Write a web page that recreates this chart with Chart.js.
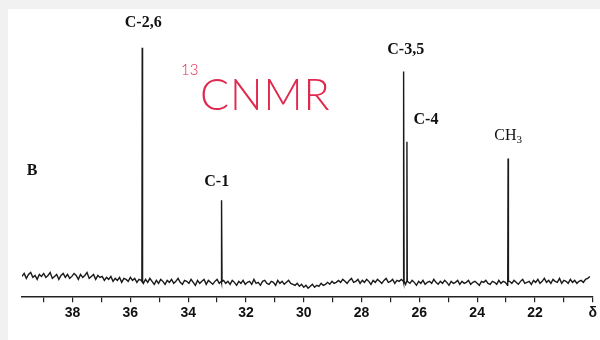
<!DOCTYPE html>
<html>
<head>
<meta charset="UTF-8">
<title>13C NMR</title>
<script src="https://cdn.jsdelivr.net/npm/chart.js@4.4.1/dist/chart.umd.min.js"></script>
<style>
  html, body { margin: 0; padding: 0; background: #fff; }
  #wrap { width: 600px; height: 340px; }
</style>
</head>
<body>
<div id="wrap"><canvas id="nmr" width="600" height="340"></canvas></div>
<script>
// baseline noise left to right (ppm 39.75 -> 20.1)
const noiseStart = 39.75;
const noiseStep = 0.075;
const noise = [
  5, 8, 3, 7, 9, 4, 6, 2, 7, 5,
  8, 4, 6, 9, 3, 5, 7, 2, 6, 8,
  4, 7, 3, 5, 8, 6, 2, 7, 4, 6,
  9, 3, 5, 7, 2, 6, 4, 5,
  1, 4, 2, 5, 0, 3, 1, 4, -1, 3,
  2, 0, 4, 1, 3, -1, 2, 1,
  -2, 2, -1, 3, 0, -3, 1, -2, 2, 0,
  -3, 1, -1, 2, -2, 0, 3, -1, -3, 1,
  0, -2, 2, -1, -4, 1, -2, 0, 2, -3,
  1, -1, -3, 0, 2, -2, -1, 1,
  -2, 0, -3, 1, -1, -4, 0, -2, 1, -3,
  -1, 0, -3, 2, -2, -1, -4, 0, 1, -2,
  -3, 0, -1, -4, 1, -2, 0, -3, -1, 1, -2, -3,
  -4, -2, -5, -3, -6, -4, -7, -5, -3, -6,
  -4, -5, -2, -4, -3, -1, -3, 0, -2, -1,
  1, -1, 2, 0, -2, 1, 3, -1, 0, 2,
  -2, 1, -1, 2, 0, -3, 1, -1, 2, 0,
  -2, 1, 3, -1, 0, 2, -2, 1, 0, 2,
  -1, -3, 0, -2, 1, -1, -4, 0, -2, 1,
  -3, -1, 0, -2, 2, -1, -3, 0, -2, 1,
  -1, -4, 0, -2, -1, 1, -3, 0, -2, -1,
  1, -3, -1, 0, -2, -4, 0, -1, 1, -2,
  -3, 0, -1, -3, 1, -2, 0, -1, -4, 0,
  -2, 1, -1, -3, 0, 2, -2, -1, 0, -3,
  1, -1, 2, -2, 0, 3, -1, 1, -2, 2,
  0, -1, 3, -2, 1, 0, -2, 2, -1, 1,
  -2, 0, 1, -1, 2, 3, 5
];

// peaks
const peakShifts  = [35.59, 32.84, 26.54, 26.43, 22.93];
const peakHeights = [236, 82, 212, 141, 124];
const peakNames   = ['C-2,6', 'C-1', 'C-3,5', 'C-4', 'CH3'];

// axis ticks
const tickValues = [39, 38, 37, 36, 35, 34, 33, 32, 31, 30, 29, 28, 27, 26, 25, 24, 23, 22, 21, 20];
const tickLabels = ['', '38', '', '36', '', '34', '', '32', '', '30', '', '28', '', '26', '', '24', '', '22', '', 'δ'];

// build the trace
let pts = noise.map((v, i) => ({ x: noiseStart - i * noiseStep, y: v }));
peakShifts.forEach((p, i) => {
    pts.push({ x: p + 0.012, y: 0 });
    pts.push({ x: p, y: peakHeights[i] });
    pts.push({ x: p - 0.012, y: 0 });
});
pts.sort((a, b) => b.x - a.x);

const labelOffsets = [[1, -25], [-5, -18], [2, -22], [19, -22], [0, -23]];

const paper = {
    id: 'paper',
    beforeDraw(chart) {
        const c = chart.ctx;
        c.save();
        c.fillStyle = '#f1f1f1';
        c.fillRect(0, 0, chart.width, chart.height);
        c.fillStyle = '#ffffff';
        c.fillRect(8, 9, chart.width - 8, chart.height - 9);
        c.restore();
    },
    afterDraw(chart) {
        const c = chart.ctx;
        const xs = chart.scales.x, ys = chart.scales.y;
        c.save();
        c.fillStyle = '#111';
        c.textAlign = 'center';
        c.textBaseline = 'middle';
        peakNames.forEach((name, i) => {
            const px = xs.getPixelForValue(peakShifts[i]) + labelOffsets[i][0];
            const py = ys.getPixelForValue(peakHeights[i]) + labelOffsets[i][1];
            if (name === 'CH3') {
                c.font = '16px "Liberation Serif", serif';
                const w1 = c.measureText('CH').width;
                c.font = '11px "Liberation Serif", serif';
                const w2 = c.measureText('3').width;
                const left = px - (w1 + w2) / 2;
                c.textAlign = 'left';
                c.font = '16px "Liberation Serif", serif';
                c.fillText('CH', left, py);
                c.font = '11px "Liberation Serif", serif';
                c.fillText('3', left + w1, py + 5);
                c.textAlign = 'center';
            } else {
                c.font = 'bold 16px "Liberation Serif", serif';
                c.fillText(name, px, py);
            }
        });
        c.font = 'bold 16px "Liberation Serif", serif';
        c.fillText('B', 32, 171);

        // handwritten note
        c.fillStyle = '#e0294f';
        c.textAlign = 'left';
        c.textBaseline = 'alphabetic';
        c.font = '300 15px Lato, "Open Sans", sans-serif';
        c.fillText('13', 181, 75);
        c.font = '300 43px Lato, "Open Sans", sans-serif';
        c.letterSpacing = '1px';
        c.fillText('CNMR', 200, 110);
        c.restore();
    }
};

new Chart(document.getElementById('nmr'), {
    type: 'line',
    data: {
        datasets: [{
            data: pts,
            borderColor: '#1a1a1a',
            borderWidth: 1.4,
            pointRadius: 0,
            tension: 0,
            fill: false
        }]
    },
    options: {
        responsive: false,
        animation: false,
        layout: { padding: { left: 22, right: 4, top: 10, bottom: 15 } },
        plugins: { legend: { display: false }, tooltip: { enabled: false } },
        scales: {
            x: {
                type: 'linear',
                reverse: true,
                min: 20,
                max: 39.75,
                afterBuildTicks: s => { s.ticks = tickValues.map(v => ({ value: v })); },
                ticks: {
                    autoSkip: false,
                    maxRotation: 0,
                    padding: 3,
                    color: '#111',
                    font: { family: '"Liberation Sans", sans-serif', size: 14, weight: 'bold' },
                    callback: (v) => tickLabels[tickValues.indexOf(v)]
                },
                grid: { display: true, drawOnChartArea: false, drawTicks: true, tickLength: 5, color: '#222', lineWidth: 1.2 },
                border: { display: true, color: '#222', width: 1.5 }
            },
            y: {
                display: false,
                min: -16,
                max: 274
            }
        }
    },
    plugins: [paper]
});
</script>
</body>
</html>
